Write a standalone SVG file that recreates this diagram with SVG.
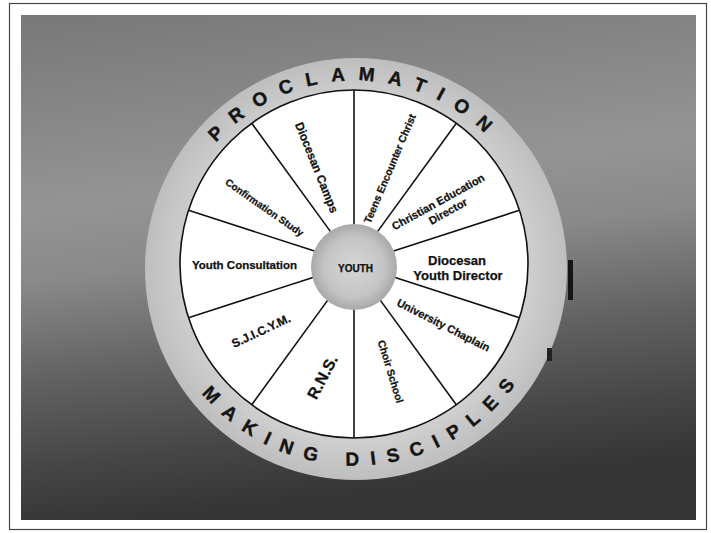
<svg xmlns="http://www.w3.org/2000/svg" width="711" height="533" viewBox="0 0 711 533">
  <defs>
    <linearGradient id="bg" x1="0" y1="0" x2="0.15" y2="1">
      <stop offset="0" stop-color="#787878"/>
      <stop offset="0.38" stop-color="#949494"/>
      <stop offset="0.52" stop-color="#898989"/>
      <stop offset="0.72" stop-color="#606060"/>
      <stop offset="0.88" stop-color="#464646"/>
      <stop offset="1" stop-color="#353535"/>
    </linearGradient>
    <radialGradient id="hubg" cx="0.5" cy="0.5" r="0.5">
      <stop offset="0" stop-color="#d6d6d6"/>
      <stop offset="0.7" stop-color="#c4c4c4"/>
      <stop offset="1" stop-color="#a8a8a8"/>
    </radialGradient>
    <radialGradient id="ringg" cx="0.5" cy="0.5" r="0.5">
      <stop offset="0.8" stop-color="#d0d0d0"/>
      <stop offset="1" stop-color="#bebebe"/>
    </radialGradient>
    <path id="arcTop" d="M 169,266.5 A 186 186 0 0 1 541,266.5"/>
    <path id="arcBottom" d="M 156,266.5 A 199 199 0 0 0 554,266.5"/>
  </defs>
  <style>
    .lbl { font-family: "Liberation Sans", Arial, sans-serif; font-weight: bold; fill: #111; stroke: #111; stroke-width: 0.25; text-anchor: middle; dominant-baseline: central; }
    .ring { font-family: "Liberation Sans", Arial, sans-serif; font-weight: bold; font-size: 19px; fill: #141414; stroke: #141414; stroke-width: 0.4; }
    .spoke { stroke: #111; stroke-width: 1.6; fill: none; }
  </style>

  <!-- page frame and background -->
  <rect x="0" y="0" width="711" height="533" fill="#ffffff"/>
  <rect x="9.5" y="3.5" width="697" height="526" fill="#ffffff" stroke="#444" stroke-width="1.2"/>
  <rect x="21" y="15" width="675" height="505" fill="url(#bg)"/>

  <!-- outer ring -->
  <g id="ring">
    <circle cx="356" cy="269" r="211" fill="url(#ringg)"/>
    <circle cx="354" cy="264" r="174" fill="#ffffff" stroke="#111" stroke-width="1.6"/>
    <text class="ring" letter-spacing="13.3"><textPath href="#arcTop" startOffset="50%" text-anchor="middle">PROCLAMATION</textPath></text>
    <text class="ring" letter-spacing="11.9"><textPath href="#arcBottom" startOffset="324" text-anchor="middle">MAKING DISCIPLES</textPath></text>
  </g>
  <rect x="568" y="260" width="5" height="40" fill="#151515"/>
  <rect x="547" y="348" width="5" height="13" fill="#222"/>

  <!-- spokes -->
  <g id="spokes" class="spoke">
    <line x1="354" y1="224" x2="354" y2="90"/>
    <line x1="377.5" y1="231.6" x2="456.3" y2="123.2"/>
    <line x1="392" y1="251.6" x2="519.5" y2="210.2"/>
    <line x1="392" y1="276.4" x2="519.5" y2="317.8"/>
    <line x1="377.5" y1="296.4" x2="456.3" y2="404.8"/>
    <line x1="354" y1="304" x2="354" y2="438"/>
    <line x1="330.5" y1="296.4" x2="251.7" y2="404.8"/>
    <line x1="316" y1="276.4" x2="188.5" y2="317.8"/>
    <line x1="316" y1="251.6" x2="188.5" y2="210.2"/>
    <line x1="330.5" y1="231.6" x2="251.7" y2="123.2"/>
  </g>

  <!-- hub -->
  <g id="hub">
    <circle cx="354" cy="267" r="43" fill="url(#hubg)"/>
    <text class="lbl" x="355.5" y="268" font-size="10">YOUTH</text>
  </g>

  <!-- segment labels -->
  <g id="diocesan-camps">
    <text class="lbl" font-size="12" transform="translate(316.5,167.5) rotate(68)">Diocesan Camps</text>
  </g>
  <g id="teens-encounter-christ">
    <text class="lbl" font-size="10.5" transform="translate(389.5,168.5) rotate(-67)">Teens Encounter Christ</text>
  </g>
  <g id="christian-education-director">
    <g transform="translate(441,207) rotate(-29)">
      <text class="lbl" font-size="11" x="0" y="-6">Christian Education</text>
      <text class="lbl" font-size="11" x="4" y="7">Director</text>
    </g>
  </g>
  <g id="diocesan-youth-director">
    <text class="lbl" font-size="13" x="457" y="260">Diocesan</text>
    <text class="lbl" font-size="13" x="458" y="275">Youth Director</text>
  </g>
  <g id="university-chaplain">
    <text class="lbl" font-size="11" transform="translate(443.5,325) rotate(27)">University Chaplain</text>
  </g>
  <g id="choir-school">
    <text class="lbl" font-size="10.5" transform="translate(391,371.5) rotate(73)">Choir School</text>
  </g>
  <g id="rns">
    <text class="lbl" font-size="16" transform="translate(322.5,377) rotate(-62)">R.N.S.</text>
  </g>
  <g id="sjicym">
    <text class="lbl" font-size="12" transform="translate(261,331) rotate(-25)">S.J.I.C.Y.M.</text>
  </g>
  <g id="youth-consultation">
    <text class="lbl" font-size="11.5" x="244.5" y="265">Youth Consultation</text>
  </g>
  <g id="confirmation-study">
    <text class="lbl" font-size="10" transform="translate(264.5,207.5) rotate(35)">Confirmation Study</text>
  </g>
</svg>
